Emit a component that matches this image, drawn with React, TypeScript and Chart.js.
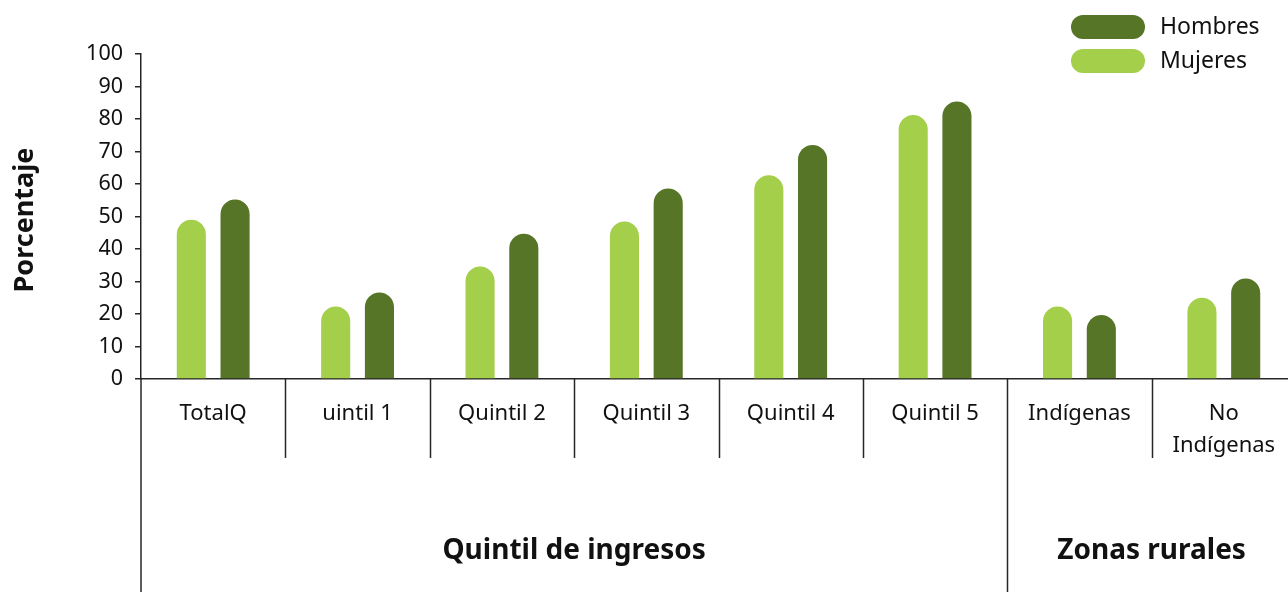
import React, { useEffect, useRef } from "react";
import { Chart, registerables } from "chart.js";

Chart.register(...registerables);

const categories: (string | string[])[] = [
  "TotalQ",
  "uintil 1",
  "Quintil 2",
  "Quintil 3",
  "Quintil 4",
  "Quintil 5",
  "Indígenas",
  ["No", "Indígenas"],
];
const mujeres = [49.0, 22.3, 34.6, 48.5, 62.7, 81.2, 22.3, 25.0];
const hombres = [55.2, 26.6, 44.7, 58.6, 72.0, 85.4, 19.7, 30.9];
const groupLabels = ["Quintil de ingresos", "Zonas rurales"];
const groupStarts = [0, 6];
const groupEnds = [5, 7];
const yTitle = "Porcentaje";
const seriesNames = ["Mujeres", "Hombres"];

const FONT = "'Noto Sans', sans-serif";
const TEXT = "#111111";
const LINE = "#262626";
const LIGHT = "#a3cf4b";
const DARK = "#567527";

const extrasPlugin = {
  id: "extras",
  afterDraw(chart: any) {
    const { ctx, chartArea, scales } = chart;
    const x = scales.x;
    const n = categories.length;
    const H = chart.height;
    const half = (x.getPixelForValue(1) - x.getPixelForValue(0)) / 2;
    const bound = (i: number) => x.getPixelForValue(i) + half;
    ctx.save();
    ctx.strokeStyle = LINE;
    ctx.lineWidth = 1.5;
    ctx.beginPath();
    ctx.moveTo(chartArea.left, chartArea.bottom);
    ctx.lineTo(chartArea.left, H);
    ctx.stroke();
    const groupBounds = new Set(groupEnds.slice(0, -1));
    for (let i = 0; i < n - 1; i++) {
      const bx = Math.round(bound(i)) + 0.5;
      ctx.beginPath();
      ctx.moveTo(bx, chartArea.bottom);
      ctx.lineTo(bx, groupBounds.has(i) ? H : chartArea.bottom + 79);
      ctx.stroke();
    }
    ctx.fillStyle = TEXT;
    ctx.font = `bold 28px ${FONT}`;
    ctx.textAlign = "center";
    ctx.textBaseline = "middle";
    groupLabels.forEach((g, k) => {
      const l = x.getPixelForValue(groupStarts[k]) - half;
      const r = x.getPixelForValue(groupEnds[k]) + half;
      ctx.fillText(g, (l + r) / 2, 551);
    });
    ctx.save();
    ctx.translate(25, 220);
    ctx.rotate(-Math.PI / 2);
    ctx.font = `bold 27px ${FONT}`;
    ctx.fillText(yTitle, 0, 0);
    ctx.restore();
    const items = [
      { label: chart.data.datasets[1].label, color: DARK },
      { label: chart.data.datasets[0].label, color: LIGHT },
    ];
    items.forEach((it, k) => {
      const cy = 27 + k * 34;
      const lx = 1071, w = 74, h = 24;
      ctx.fillStyle = it.color;
      ctx.beginPath();
      ctx.roundRect(lx, cy - h / 2, w, h, h / 2);
      ctx.fill();
      ctx.fillStyle = TEXT;
      ctx.font = `23px ${FONT}`;
      ctx.textAlign = "left";
      ctx.fillText(it.label, 1160, cy);
    });
    ctx.restore();
  },
};

export default function App() {
  const ref = useRef<HTMLCanvasElement>(null);
  useEffect(() => {
    if (!ref.current) return;
    const common = {
      borderRadius: { topLeft: 15, topRight: 15, bottomLeft: 0, bottomRight: 0 },
      borderSkipped: "bottom",
      categoryPercentage: 0.606,
      barPercentage: 0.665,
    };
    const chart = new Chart(ref.current, {
      type: "bar",
      data: {
        labels: categories as any,
        datasets: [
          { label: seriesNames[0], data: mujeres, backgroundColor: LIGHT, ...common } as any,
          { label: seriesNames[1], data: hombres, backgroundColor: DARK, ...common } as any,
        ],
      },
      options: {
        animation: false,
        responsive: true,
        maintainAspectRatio: false,
        layout: { padding: { top: 54, left: 0, right: 0, bottom: 0 } },
        plugins: { legend: { display: false }, tooltip: { enabled: false } },
        scales: {
          x: {
            type: "category",
            offset: true,
            grid: { display: false, drawTicks: false },
            border: { display: true, color: LINE, width: 1.5 },
            ticks: {
              font: { family: FONT, size: 22, lineHeight: 1.45 },
              color: TEXT,
              padding: 19,
              maxRotation: 0,
              autoSkip: false,
            },
            afterFit: (s: any) => {
              s.height = 213;
            },
          },
          y: {
            min: 0,
            max: 100,
            ticks: {
              stepSize: 10,
              font: { family: FONT, size: 21.5 },
              color: TEXT,
              padding: 12,
            },
            grid: { drawOnChartArea: false, drawTicks: true, tickLength: 6, color: LINE, lineWidth: 1.5 },
            border: { display: true, color: LINE, width: 1.5 },
            afterFit: (s: any) => {
              s.width = 141;
            },
          },
        },
      },
      plugins: [extrasPlugin],
    });
    return () => chart.destroy();
  }, []);
  return (
    <div style={{ position: "absolute", left: 0, top: 0, width: 1288, height: 592, overflow: "hidden", background: "#fff" }}>
      <div style={{ position: "relative", width: 1296, height: 592 }}>
        <canvas ref={ref} />
      </div>
    </div>
  );
}
